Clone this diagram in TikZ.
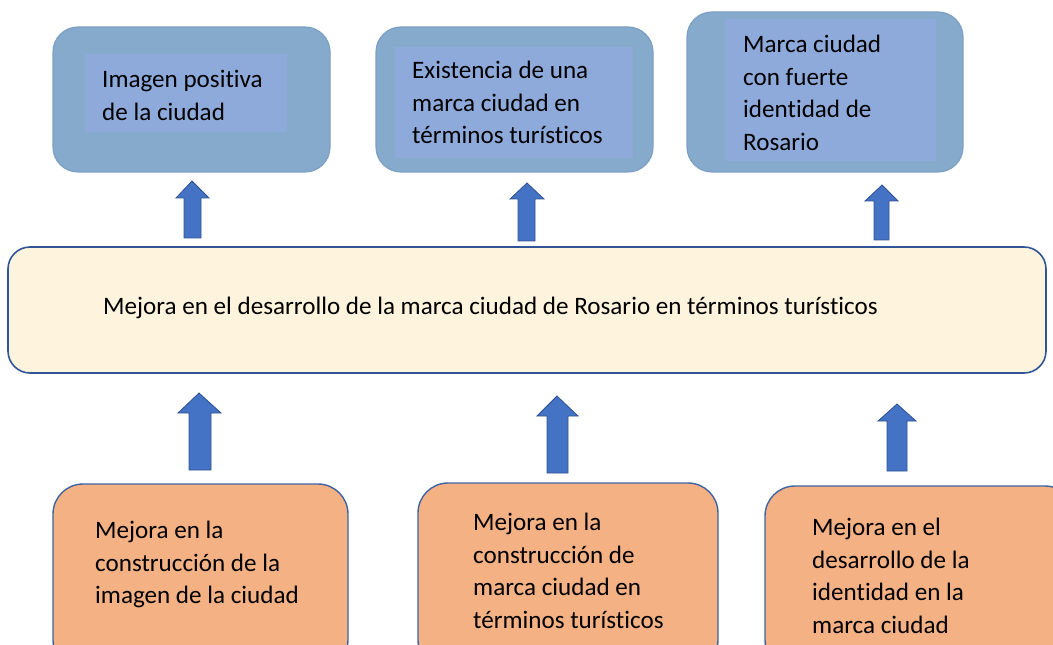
\documentclass[tikz,border=0pt]{standalone}
\usepackage{fontspec}
\setmainfont[Ligatures=NoCommon]{Carlito}
\definecolor{topfill}{HTML}{86AACC}
\definecolor{topline}{HTML}{7C9FC4}
\definecolor{innerfill}{HTML}{8EAADB}
\definecolor{midfill}{HTML}{FEF3DC}
\definecolor{midline}{HTML}{2F5597}
\definecolor{botfill}{HTML}{F4B183}
\definecolor{botline}{HTML}{3E64A0}
\definecolor{arrfill}{HTML}{4472C4}
\definecolor{arrline}{HTML}{2F528F}
\tikzset{
  topbox/.style={draw=topline, line width=1.2pt, fill=topfill, rounded corners=25bp},
  innerbox/.style={fill=innerfill},
  midbox/.style={draw=midline, line width=1.6pt, fill=midfill, rounded corners=22bp},
  botbox/.style={draw=botline, line width=1.4pt, fill=botfill, rounded corners=30bp},
  blockarrow/.style={draw=arrline, line width=0.8pt, fill=arrfill},
  lbl/.style={anchor=north west, inner sep=0pt, align=left, text=black,
    font=\fontsize{25.2}{33}\selectfont}
}
\newcommand{\firstline}{\rule{0pt}{18bp}}
\begin{document}
\begin{tikzpicture}[x=1bp,y=-1bp]
\useasboundingbox (0,0) rectangle (1053,645);
\clip (0,0) rectangle (1053,645);
% top boxes
\draw[topbox] (53,27) rectangle (330,172);
\fill[innerbox] (85,54) rectangle (287,132);
\draw[topbox] (376,27) rectangle (653,172);
\fill[innerbox] (395,47) rectangle (633,158);
\draw[topbox] (687,12) rectangle (963,172);
\fill[innerbox] (725,19) rectangle (936,161);
\node[lbl] (t1) at (102,69) {\firstline Imagen positiva\\de la ciudad};
\node[lbl] (t2) at (412,60) {\firstline Existencia de una\\marca ciudad en\\términos turísticos};
\node[lbl] (t3) at (743,34) {\firstline Marca ciudad\\con fuerte\\identidad de\\Rosario};
% middle box
\draw[midbox] (8,247) rectangle (1046,373);
\node[lbl] (mid) at (103,296) {\firstline Mejora en el desarrollo de la marca ciudad de Rosario en términos turísticos};
% bottom boxes
\draw[botbox] (53,484) rectangle (348,670);
\draw[botbox] (418,483) rectangle (718,670);
\draw[botbox] (765,486) rectangle (1075,670);
\node[lbl] (b1) at (95,520) {\firstline Mejora en la\\construcción de la\\imagen de la ciudad};
\node[lbl] (b2) at (473,512) {\firstline Mejora en la\\construcción de\\marca ciudad en\\términos turísticos};
\node[lbl] (b3) at (812,517) {\firstline Mejora en el\\desarrollo de la\\identidad en la\\marca ciudad};
% top arrows
\draw[blockarrow] (184,238) -- (184,198) -- (176,198) -- (192,181) -- (209,198) -- (201,198) -- (201,238) -- cycle;
\draw[blockarrow] (518,241) -- (518,199) -- (510,199) -- (527,183) -- (544,199) -- (535,199) -- (535,241) -- cycle;
\draw[blockarrow] (874,240) -- (874,201) -- (865,201) -- (882,185) -- (898,201) -- (889,201) -- (889,240) -- cycle;
% bottom arrows
\draw[blockarrow] (189,470) -- (189,413) -- (178,413) -- (199,393) -- (221,413) -- (211,413) -- (211,470) -- cycle;
\draw[blockarrow] (547,473) -- (547,416) -- (537,416) -- (557,396) -- (578,416) -- (568,416) -- (568,473) -- cycle;
\draw[blockarrow] (887,471) -- (887,421) -- (878,421) -- (897,404) -- (916,421) -- (907,421) -- (907,471) -- cycle;
\end{tikzpicture}
\end{document}
